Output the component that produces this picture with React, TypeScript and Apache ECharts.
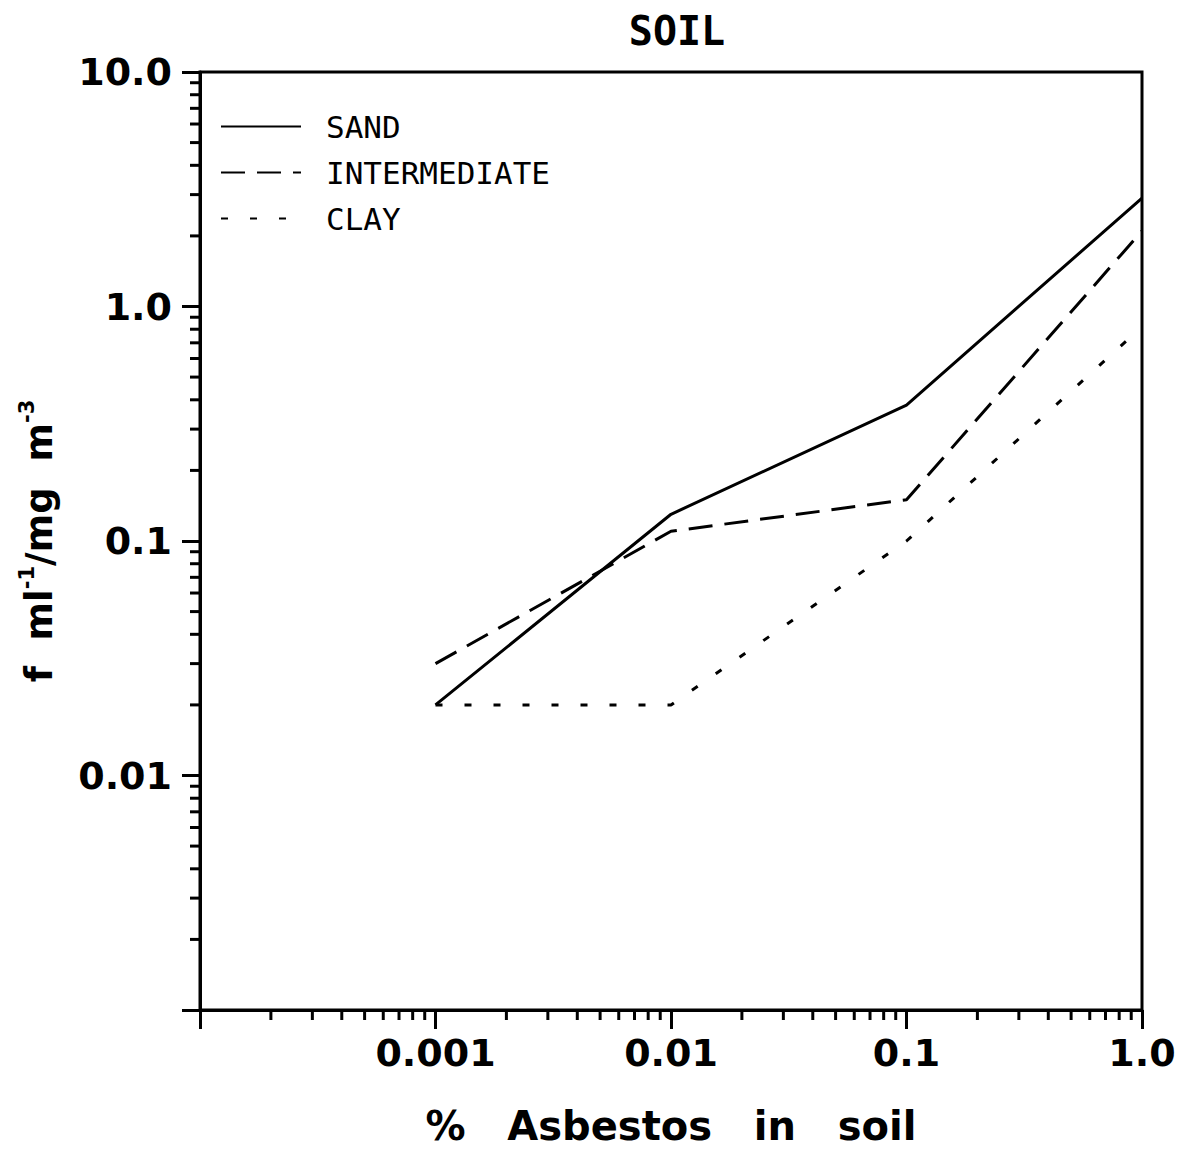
import React, { useEffect, useRef } from "react";
import * as echarts from "echarts";

const xValues = [0.001, 0.01, 0.1, 1.0];
const sand = [0.02, 0.13, 0.38, 2.9];
const intermediate = [0.03, 0.11, 0.15, 2.1];
const clay = [0.02, 0.02, 0.1, 0.82];

const seriesNames = ["SAND", "INTERMEDIATE", "CLAY"];

// labels by decade exponent
const xTickLabels: Record<string, string> = { "-4": "", "-3": "0.001", "-2": "0.01", "-1": "0.1", "0": "1.0" };
const yTickLabels: Record<string, string> = { "-3": "", "-2": "0.01", "-1": "0.1", "0": "1.0", "1": "10.0" };

const xDecades = [-4, -3, -2, -1];
const yDecades = [-3, -2, -1, 0];
const minorSteps = [2, 3, 4, 5, 6, 7, 8, 9];

const FONT = "DejaVu Sans";
const MONO = "DejaVu Sans Mono";

export default function App() {
  const ref = useRef<HTMLDivElement>(null);
  useEffect(() => {
    if (!ref.current) return;
    const chart = echarts.init(ref.current, null, { renderer: "svg" });
    const toPts = (ys: number[]) => xValues.map((x, i) => [x, ys[i]]);
    const lineBase = { color: "#000", width: 3 };
    chart.setOption({
      animation: false,
      color: ["#000"],
      backgroundColor: "#fff",
      title: {
        text: "SOIL",
        left: 672,
        top: 6,
        textAlign: "center",
        textStyle: { fontFamily: MONO, fontWeight: "bold", fontSize: 40, color: "#000" },
      },
      legend: {
        orient: "vertical",
        left: 215,
        top: 106,
        itemWidth: 80,
        itemHeight: 14,
        itemGap: 15,
        itemStyle: { opacity: 0 },
        data: seriesNames,
        textStyle: { fontFamily: MONO, fontSize: 31, color: "#000", padding: [0, 0, 0, 20] },
      },
      grid: {
        left: 200,
        right: 60,
        top: 72,
        bottom: 139,
        show: true,
        borderColor: "#000",
        borderWidth: 3,
        containLabel: false,
      },
      xAxis: {
        type: "log",
        logBase: 10,
        min: 0.0001,
        max: 1,
        name: "%   Asbestos   in   soil",
        nameLocation: "middle",
        nameGap: 96,
        nameTextStyle: { fontFamily: FONT, fontWeight: "bold", fontSize: 40, color: "#000" },
        axisLine: { show: true, lineStyle: { color: "#000", width: 3 } },
        axisTick: { show: true, inside: false, length: 19, lineStyle: { color: "#000", width: 3 } },
        axisLabel: {
          margin: 24,
          fontFamily: FONT,
          fontWeight: "bold",
          fontSize: 38,
          color: "#000",
          formatter: (v: number) => xTickLabels[String(Math.round(Math.log10(v)))] ?? "",
        },
        splitLine: { show: false },
      },
      yAxis: {
        type: "log",
        logBase: 10,
        min: 0.001,
        max: 10,
        name: "f  ml{sup|-1}/mg  m{sup|-3}",
        nameLocation: "middle",
        nameGap: 138,
        nameRotate: 90,
        nameTextStyle: {
          fontFamily: FONT,
          fontWeight: "bold",
          fontSize: 37,
          color: "#000",
          lineHeight: 46,
          rich: {
            sup: { fontFamily: FONT, fontWeight: "bold", fontSize: 21, color: "#000", verticalAlign: "top", lineHeight: 46 },
          },
        },
        axisLine: { show: true, lineStyle: { color: "#000", width: 3 } },
        axisTick: { show: true, inside: false, length: 18, lineStyle: { color: "#000", width: 3 } },
        axisLabel: {
          margin: 28,
          fontFamily: FONT,
          fontWeight: "bold",
          fontSize: 38,
          color: "#000",
          formatter: (v: number) => yTickLabels[String(Math.round(Math.log10(v)))] ?? "",
        },
        splitLine: { show: false },
      },
      series: [
        { name: "SAND", type: "line", symbol: "none", legendIcon: "none", data: toPts(sand), lineStyle: { ...lineBase, type: "solid" } },
        { name: "INTERMEDIATE", type: "line", symbol: "none", legendIcon: "none", data: toPts(intermediate), lineStyle: { ...lineBase, type: [24, 12] } },
        { name: "CLAY", type: "line", symbol: "none", legendIcon: "none", data: toPts(clay), lineStyle: { ...lineBase, type: [7, 22] } },
      ],
    });

    // minor log ticks, positioned through the chart's own scales
    const graphics: any[] = [];
    const bottomY = chart.convertToPixel({ gridIndex: 0 }, [1, 0.001])[1];
    const leftX = chart.convertToPixel({ gridIndex: 0 }, [0.0001, 1])[0];
    xDecades.forEach((d) => {
      minorSteps.forEach((k) => {
        const px = chart.convertToPixel({ gridIndex: 0 }, [k * Math.pow(10, d), 1])[0];
        graphics.push({
          type: "line",
          silent: true,
          shape: { x1: px, y1: bottomY, x2: px, y2: bottomY + 10 },
          style: { stroke: "#000", lineWidth: 3 },
        });
      });
    });
    yDecades.forEach((d) => {
      minorSteps.forEach((k) => {
        const py = chart.convertToPixel({ gridIndex: 0 }, [1, k * Math.pow(10, d)])[1];
        graphics.push({
          type: "line",
          silent: true,
          shape: { x1: leftX - 10, y1: py, x2: leftX, y2: py },
          style: { stroke: "#000", lineWidth: 3 },
        });
      });
    });
    chart.setOption({ graphic: graphics });

    return () => chart.dispose();
  }, []);
  return <div ref={ref} style={{ position: "fixed", left: 0, top: 0, width: 1202, height: 1151 }} />;
}
